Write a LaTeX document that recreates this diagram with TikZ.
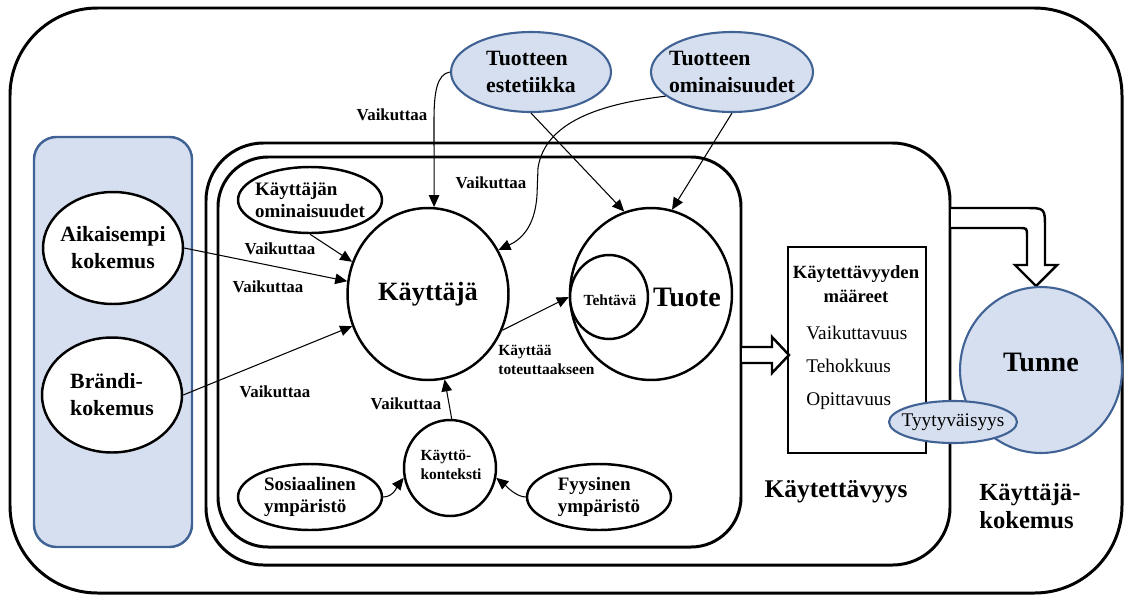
\documentclass[tikz,border=0pt]{standalone}
\usepackage{fontspec}
\setmainfont{Liberation Serif}[BoldFont={Liberation Serif Bold}, ItalicFont={Liberation Serif Italic}]
\usetikzlibrary{shapes.geometric, arrows.meta, positioning}
\definecolor{paleblue}{RGB}{214,223,239}
\definecolor{edgeblue}{RGB}{65,98,148}

\begin{document}
\begin{tikzpicture}[
        x=0.02cm, y=-0.02cm, % work on the pixel grid of the sketch
        link/.style={line width=0.6pt, -{Triangle[length=6.8pt,width=6pt]}}, % thin arrow
        frame/.style={draw, line width=1.7pt}, % big rounded frames
        bubble/.style={ellipse, draw, line width=1.4pt, fill=white, inner sep=0pt},
        bluebubble/.style={bubble, draw=edgeblue, fill=paleblue, line width=1.2pt},
        hollow/.style={draw, line width=1.4pt, fill=white, line join=miter},
        bubtxt/.style={align=left, inner sep=0pt, font=\bfseries\fontsize{12.4}{15.3}\selectfont},
        midtxt/.style={align=left, inner sep=0pt, font=\bfseries\fontsize{10.8}{13}\selectfont},
        smalltxt/.style={align=left, inner sep=0pt, font=\bfseries\fontsize{8.8}{11}\selectfont},
        vlabel/.style={inner sep=0pt, font=\bfseries\fontsize{9.6}{11}\selectfont},
        bigtxt/.style={inner sep=0pt, font=\bfseries\fontsize{16}{19}\selectfont},
        headtxt/.style={align=left, inner sep=0pt, font=\bfseries\fontsize{14.5}{16.5}\selectfont},
        plaintxt/.style={inner sep=0pt, font=\fontsize{11}{13}\selectfont}
    ]
        \useasboundingbox (0,0) rectangle (1127,599);

        % Frames
        \draw[frame, rounded corners=1.75cm] (10,8) rectangle (1122,593);
        \draw[draw=edgeblue, fill=paleblue, line width=1.4pt, rounded corners=0.45cm] (34,137) rectangle (192,547);
        \draw[frame, rounded corners=1.15cm] (206,143) rectangle (950,565);
        \draw[frame, rounded corners=1cm] (218,157) rectangle (741,547);

        % Hollow arrows
        \draw[hollow] (742,347) -- (772,347) -- (772,337) -- (789,355) -- (772,373) -- (772,363) -- (742,363);
        \draw[hollow] (951,208) -- (1025,208) .. controls (1045,208) .. (1045,228) -- (1045,265)
            -- (1057,265) -- (1036,286) -- (1015,265) -- (1027,265) -- (1027,236)
            .. controls (1027,228) .. (1019,228) -- (951,228);

        % Usability attributes box
        \node[draw, line width=1.4pt, minimum width=2.76cm, minimum height=4.12cm, inner sep=0pt] (traits) at (857,350) {};
        \node[midtxt, align=center, font=\bfseries\fontsize{10.6}{13.6}\selectfont] (traitsHead) at (856,284) {Käytettävyyden\\määreet};
        \node[plaintxt, anchor=west] (eff) at (806,333) {Vaikuttavuus};
        \node[plaintxt, anchor=west] (effic) at (806,366) {Tehokkuus};
        \node[plaintxt, anchor=west] (learn) at (806,401) {Opittavuus};

        % Emotion
        \node[bluebubble, minimum width=3.24cm, minimum height=3.32cm] (tunne) at (1041,370) {};
        \node[bigtxt] (tunneTxt) at (1041,362) {Tunne};
        \node[bluebubble, minimum width=2.56cm, minimum height=0.84cm] (sat) at (953,422) {};
        \node[plaintxt] (satTxt) at (sat) {Tyytyväisyys};

        % Product side
        \node[bluebubble, minimum width=3.2cm, minimum height=1.6cm] (est) at (531,72) {};
        \node[bubtxt] (estTxt) at (est) {Tuotteen\\estetiikka};
        \node[bluebubble, minimum width=3.24cm, minimum height=1.6cm] (prop) at (732,72) {};
        \node[bubtxt] (propTxt) at (prop) {Tuotteen\\ominaisuudet};
        \node[bubble, minimum width=3.24cm, minimum height=3.44cm] (prod) at (651,294) {};
        \node[bubble, minimum width=1.56cm, minimum height=1.68cm] (task) at (609,297) {};
        \node[smalltxt] (taskTxt) at (610,300) {Tehtävä};
        \node[bigtxt, right=2pt of task] (prodTxt) {Tuote};

        % User side
        \node[bubble, minimum width=3.22cm, minimum height=3.44cm, font=\bfseries\fontsize{15}{18}\selectfont] (user) at (428,294) {Käyttäjä};
        \node[bubble, minimum width=2.88cm, minimum height=1.32cm] (opt) at (310,200) {};
        \node[midtxt] (optTxt) at (opt) {Käyttäjän\\ominaisuudet};
        \node[bubble, minimum width=2.8cm, minimum height=2.24cm] (prev) at (113,248) {};
        \node[bubtxt, align=center] (prevTxt) at (prev) {Aikaisempi\\kokemus};
        \node[bubble, minimum width=2.8cm, minimum height=2.3cm] (brand) at (112,395) {};
        \node[bubtxt] (brandTxt) at (brand) {Brändi-\\kokemus};

        % Context of use
        \node[bubble, minimum width=1.84cm, minimum height=1.92cm] (ctx) at (450,468) {};
        \node[smalltxt] (ctxTxt) at (451,465) {Käyttö-\\konteksti};
        \node[bubble, minimum width=2.88cm, minimum height=1.32cm] (soc) at (310,497) {};
        \node[midtxt] (socTxt) at (soc) {Sosiaalinen\\ympäristö};
        \node[bubble, minimum width=2.88cm, minimum height=1.32cm] (phys) at (599,497) {};
        \node[midtxt] (physTxt) at (phys) {Fyysinen\\ympäristö};

        % Connectors from the product
        \draw[link] (est.west) .. controls (437,74) and (434,92) .. (434,120) -- (user.86);
        \draw[link] (est.south) -- (prod.108);
        \draw[link] (prop.south) -- (prod.76);
        \draw[link] (prop.200) .. controls (600,104) and (545,122) .. (538,168) -- (537,195)
            .. controls (535,228) and (520,240) .. (user.32);

        % Connectors from the left
        \draw[link] (opt.south) -- (user.157);
        \draw[link] (prev.east) -- (user.171);
        \draw[link] (brand.east) -- (user.203);

        % Use and context
        \draw[link] (user.334) -- (task.west);
        \draw[link] (ctx.88) -- (user.281);
        \draw[link] (soc.east) .. controls (394,497) and (398,485) .. (ctx.192);
        \draw[link] (phys.west) .. controls (516,497) and (505,485) .. (ctx.348);

        % Labels
        \node[vlabel] (vEst) at (392,115) {Vaikuttaa};
        \node[vlabel] (vProp) at (491,183) {Vaikuttaa};
        \node[vlabel] (vOpt) at (280,249) {Vaikuttaa};
        \node[vlabel] (vPrev) at (268,287) {Vaikuttaa};
        \node[vlabel] (vBrand) at (275,392) {Vaikuttaa};
        \node[vlabel] (vCtx) at (406,404) {Vaikuttaa};
        \node[smalltxt, anchor=west] (useLbl) at (498,360) {Käyttää\\toteuttaakseen};
        \node[headtxt] (usabTxt) at (836,492) {Käytettävyys};
        \node[headtxt, font=\bfseries\fontsize{14}{16}\selectfont, anchor=west] (uxTxt) at (979,506) {Käyttäjä-\\kokemus};

    \end{tikzpicture}
\end{document}
